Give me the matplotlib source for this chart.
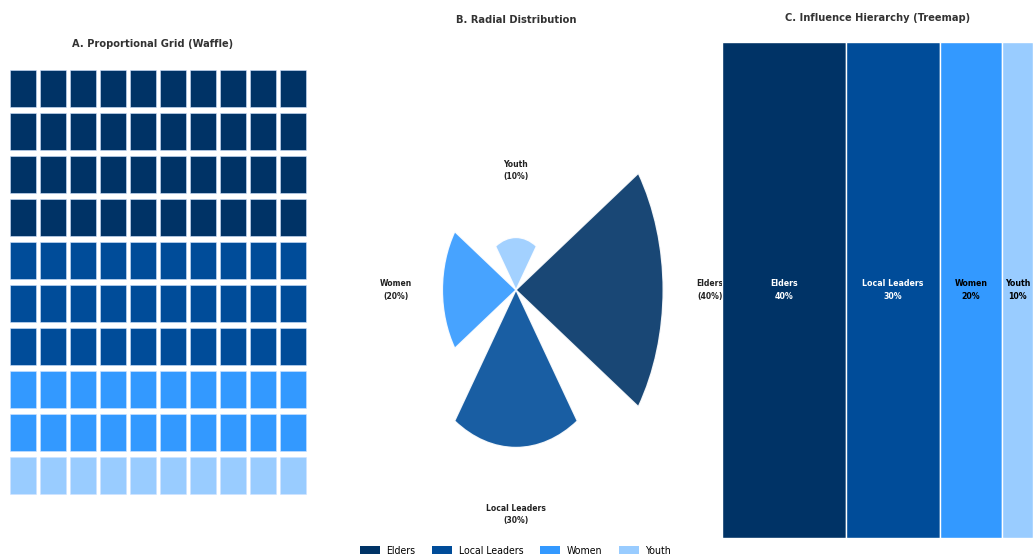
import numpy as np
import matplotlib.pyplot as plt
from matplotlib.patches import Rectangle, Patch

groups = ['Elders', 'Local Leaders', 'Women', 'Youth']
shares = [40, 30, 20, 10]
colors = ['#003366', '#004C99', '#3399FF', '#99CCFF']
text_colors = ['white', 'white', 'black', 'black']

plt.rcParams['font.family'] = ['DejaVu Sans']
plt.rcParams['font.stretch'] = 'condensed'

fig = plt.figure(figsize=(10.33, 5.58), dpi=100)

# A. waffle, 10 x 10 cells filled row by row from the top
ax1 = fig.add_axes([0.0076, 0.1093, 0.2906, 0.7706])
cells = np.repeat(np.arange(len(groups)), shares)
for k, g in enumerate(cells):
    r, c = divmod(k, 10)
    ax1.add_patch(Rectangle((c + 0.07, r + 0.07), 0.86, 0.86,
                            facecolor=colors[g], edgecolor='#cfe3ff', lw=0.4))
ax1.set_xlim(0, 10)
ax1.set_ylim(10, 0)
ax1.axis('off')

# B. radial bars
ax2 = fig.add_axes([0.3214, 0.0099, 0.3562, 0.9409], projection='polar')
ax2.set_aspect('auto')
ax2.set_theta_direction(-1)
theta = np.arange(len(groups)) * 2 * np.pi / len(groups)
ax2.bar(theta, shares, width=2 * np.pi / len(groups) * 0.75, color=colors,
        alpha=0.9, edgecolor='white', linewidth=1)
ax2.set_ylim(0, 50)
for t, v, g in zip(theta, shares, groups):
    ax2.text(t, v + 12.7, f'{g}\n({v}%)', ha='center', va='center', linespacing=1.45,
             fontsize=6.1, fontweight='bold', color='#222222')
ax2.axis('off')

# C. treemap (single row slice)
ax3 = fig.add_axes([0.6989, 0.0358, 0.3011, 0.8889])
left = np.cumsum([0] + shares[:-1])
ax3.bar(left, [1] * len(shares), width=shares, align='edge', color=colors,
        edgecolor='white', linewidth=1)
for x, v, g, tc in zip(left, shares, groups, text_colors):
    ax3.text(x + v / 2, 0.5, f'{g}\n{v}%', ha='center', va='center', linespacing=1.45,
             fontsize=6.3, fontweight='bold', color=tc)
ax3.set_xlim(0, 100)
ax3.set_ylim(0, 1)
ax3.axis('off')

title_kw = dict(ha='center', va='center', fontsize=7.9, fontweight='bold', color='#333333')
fig.text(153 / 1033, 1 - 44 / 558, 'A. Proportional Grid (Waffle)', **title_kw)
fig.text(516 / 1033, 1 - 20 / 558, 'B. Radial Distribution', **title_kw)
fig.text(878 / 1033, 1 - 18 / 558, 'C. Influence Hierarchy (Treemap)', **title_kw)

handles = [Patch(facecolor=c, label=g) for c, g in zip(colors, groups)]
fig.legend(handles=handles, loc='center', bbox_to_anchor=(515.5 / 1033, 1 - 551 / 558),
           ncol=4, frameon=False, fontsize=7.6, handlelength=1.9, handleheight=0.8,
           columnspacing=1.6, handletextpad=0.6)

fig.savefig('out.png', dpi=100)
